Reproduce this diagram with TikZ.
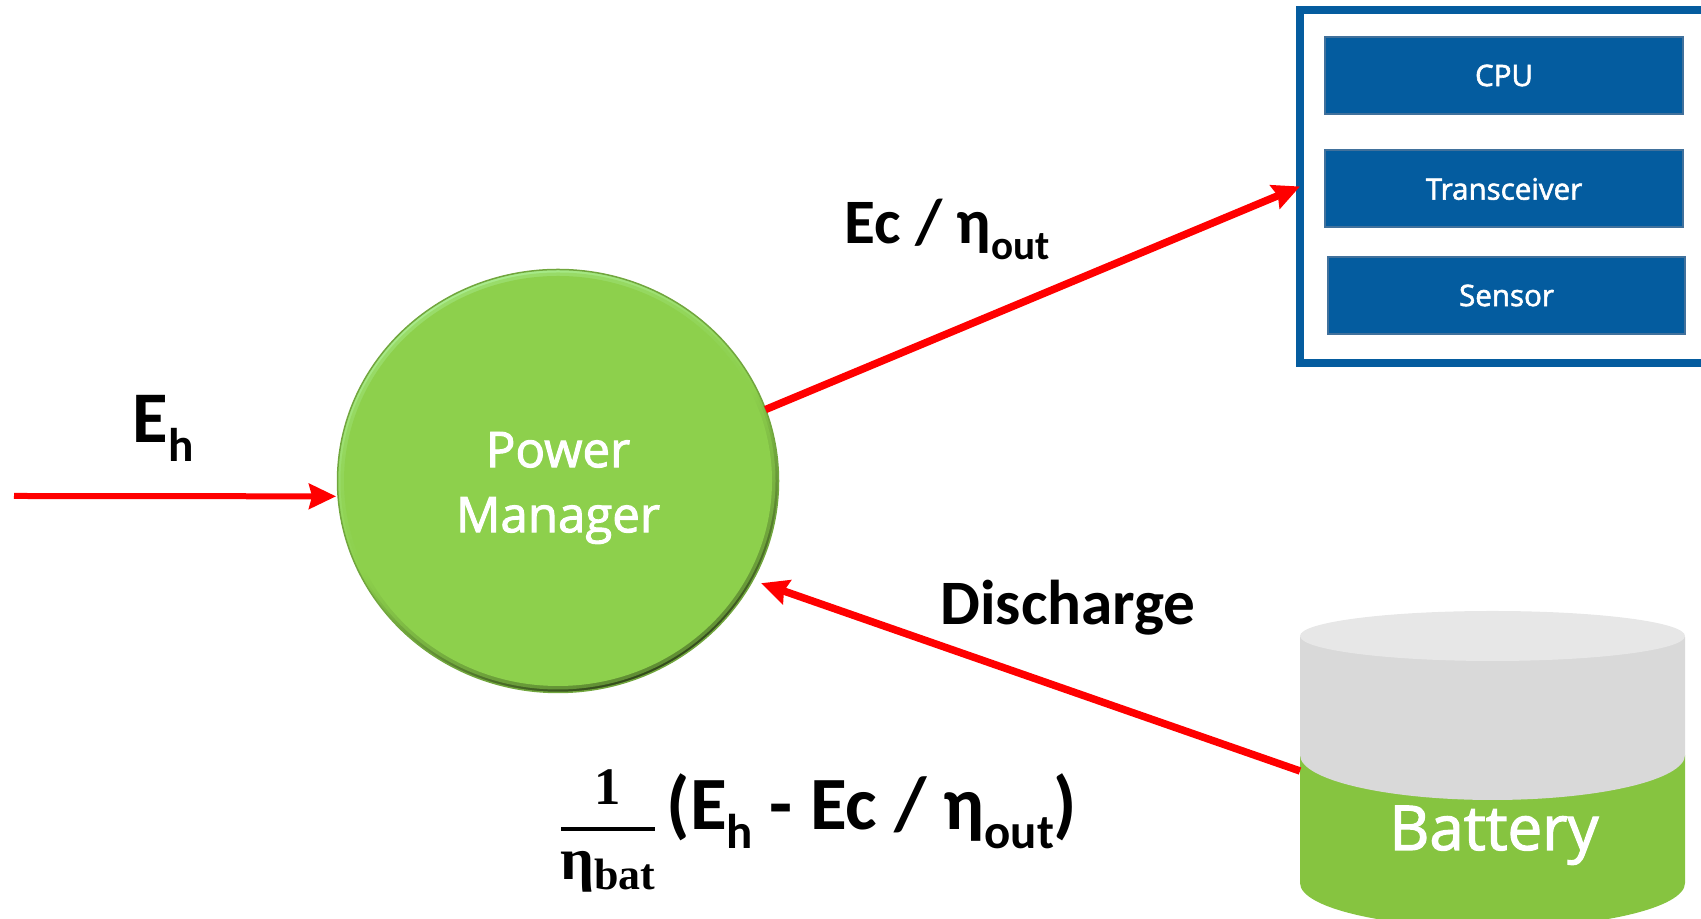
\documentclass[tikz,border=0pt]{standalone}
\usepackage{fontspec}
\usepackage{graphicx}
\setmainfont{Carlito}
\newfontfamily\boxfont[RawFeature={embolden=2}]{Open Sans}
\newfontfamily\fracfont{Liberation Serif}
\usetikzlibrary{arrows.meta,shapes.geometric}
\definecolor{pmgreen}{HTML}{8DD04C}
\definecolor{batgreen}{HTML}{86C440}
\definecolor{batgray}{HTML}{D9D9D9}
\definecolor{battop}{HTML}{E7E7E7}
\definecolor{sysblue}{HTML}{045C9F}
\definecolor{unitedge}{HTML}{41719C}
\newcommand{\subtxt}[1]{\raisebox{-.25em}{\scalebox{.65}{#1}}}
\tikzset{
    flow/.style={red,line width=0.075cm,-{Stealth[length=0.27cm,width=0.25cm,inset=0.03cm]}},
    unitbox/.style={rectangle,draw=unitedge,fill=sysblue,line width=0.02cm,outer sep=0,inner sep=0,
        minimum width=3.58cm,minimum height=0.77cm,text=white,font=\boxfont\fontsize{8.4pt}{10pt}\selectfont},
    biglabel/.style={anchor=base,font=\bfseries\fontsize{18pt}{22pt}\selectfont,inner sep=0},
}
\begin{document}
\begin{tikzpicture}
                \clip (0,0) rectangle (17.01,9.19);

                \node [ellipse,outer sep=0,inner sep=0,minimum width=4.41cm,minimum height=4.23cm,
                    draw=pmgreen!80!black,line width=0.015cm,
                    top color=pmgreen!50!white!85!green,bottom color=pmgreen!35!black,middle color=pmgreen,shading angle=25,
                    path picture={
                        \fill [pmgreen,opacity=0.5] (path picture bounding box.center) ellipse (2.175 and 2.085);
                        \fill [pmgreen] (path picture bounding box.center) ellipse (2.14 and 2.05);
                    }] (pm) at (5.58,4.38) {};
                \node [inner sep=0,text=white,align=center,font=\boxfont\fontsize{14pt}{18.5pt}\selectfont] (pmtext) at ([yshift=-0.07cm]pm.center) {Power\\Manager};

                \node [rectangle,draw=sysblue,line width=0.08cm,outer sep=0,minimum width=4.4cm,minimum height=3.53cm] (sys) at (15.20,7.325) {};
                \node [unitbox] (cpu) at (15.04,8.435) {CPU};
                \node [unitbox] (trx) at (15.04,7.30) {Transceiver};
                \node [unitbox,minimum width=3.57cm] (sensor) at (15.065,6.235) {Sensor};

                \fill [batgreen] (13.00,1.64) -- (13.00,0.36) arc [start angle=180,end angle=360,x radius=1.925,y radius=0.45] -- (16.85,1.64) -- cycle;
                \fill [batgray] (13.00,2.82) -- (13.00,1.64) arc [start angle=180,end angle=360,x radius=1.925,y radius=0.45] -- (16.85,2.82) -- cycle;
                \fill [battop] (14.925,2.83) ellipse (1.925 and 0.25);
                \node [anchor=base,inner sep=0,text=white,font=\boxfont\fontsize{17.6pt}{20pt}\selectfont] (battery) at (14.94,0.69) {Battery};

                \coordinate (source) at (0.14,4.23);
                \coordinate (batport) at (13.00,1.48);

                \draw [flow,line width=0.06cm,shorten >=0.02cm] (source) -- (pm.184);
                \draw [flow] (pm.19) -- (sys.west);
                \draw [flow,shorten >=0.09cm] (batport) -- (pm.-27);

                \node [biglabel,font=\bfseries\fontsize{20.7pt}{24pt}\selectfont] (eh) at (1.63,4.76) {E\subtxt{h}};
                \node [biglabel] (ecout) at (9.47,6.75) {Ec / η\subtxt{out}};
                \node [biglabel] (discharge) at (10.68,2.94) {Discharge};
                \node [biglabel,font=\bfseries\fontsize{21.4pt}{24pt}\selectfont] (diff) at (8.72,0.89) {(E\subtxt{h} - Ec / η\subtxt{out})};

                \node [anchor=base,inner sep=0,font=\fracfont\bfseries\fontsize{15pt}{18pt}\selectfont] (fracnum) at (6.08,1.14) {1};
                \node [anchor=base,inner sep=0,font=\fracfont\bfseries\fontsize{17pt}{18pt}\selectfont] (fracden) at (6.08,0.29) {\raisebox{0.1cm}{η}{\fontsize{12.5pt}{14pt}\selectfont bat}};
                \coordinate (barleft) at (5.61,0.90);
                \coordinate (barright) at (6.55,0.90);
                \draw [line width=0.035cm] (barleft) -- (barright);
            \end{tikzpicture}
\end{document}
